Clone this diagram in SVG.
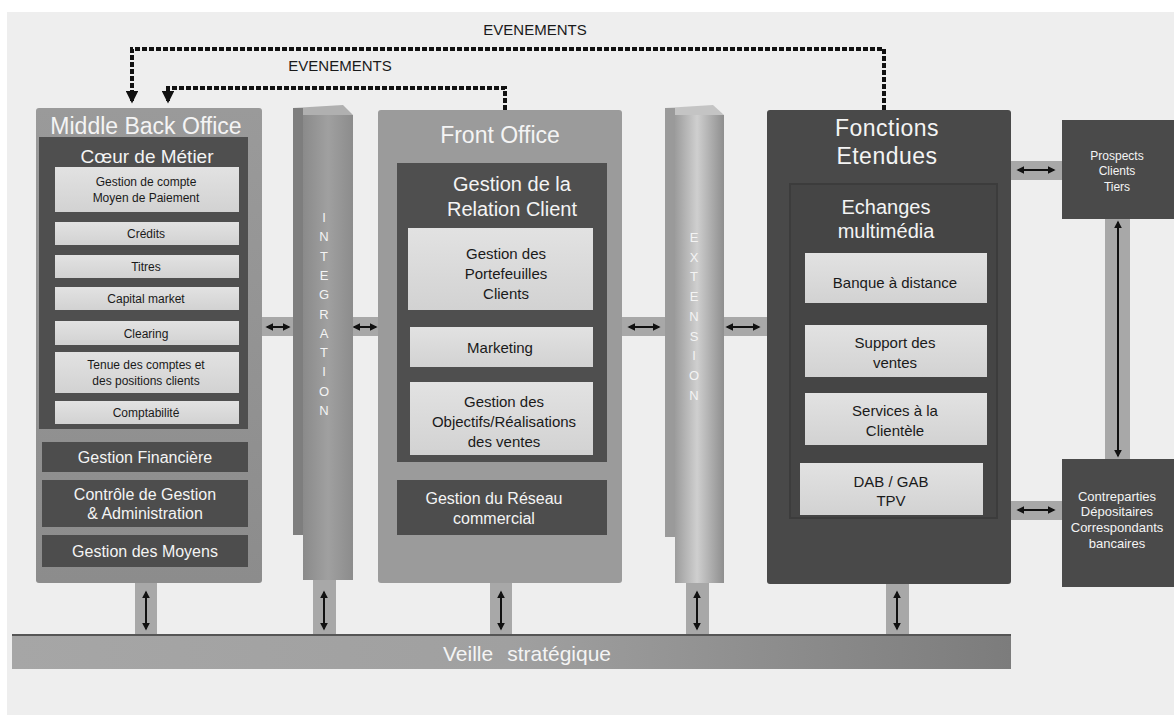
<svg xmlns="http://www.w3.org/2000/svg" width="1174" height="715" viewBox="0 0 1174 715">
<defs>
<style>
text{font-family:"Liberation Sans",Arial,sans-serif;text-anchor:middle}
.wt{fill:#f4f4f4}
.bk{fill:#1a1a1a}
.t23{font-size:23px}
.t20{font-size:20px}
.t16{font-size:16px}
.t15{font-size:15px}
.t13{font-size:13px}
.t12{font-size:12px}
.lt{fill:url(#gLight)}
.hl{fill:#ececec}
.dk{fill:#4d4d4d}
.dot{fill:none;stroke:#111;stroke-width:4;stroke-dasharray:5 2}
.band{fill:#a8a8a8}
.arr{stroke:#111;stroke-width:2;fill:none;marker-start:url(#ah);marker-end:url(#ah)}
</style>
<marker id="ah" viewBox="0 0 10 10" refX="8" refY="5" markerWidth="4" markerHeight="4" orient="auto-start-reverse">
<path d="M0,0 L10,5 L0,10 z" fill="#111"/>
</marker>
<marker id="ahd" viewBox="0 0 10 10" refX="8" refY="5" markerWidth="3.2" markerHeight="3.2" orient="auto">
<path d="M0,0 L10,5 L0,10 z" fill="#111"/>
</marker>
<linearGradient id="gLight" x1="0" y1="0" x2="0" y2="1">
<stop offset="0" stop-color="#e2e2e2"/>
<stop offset="1" stop-color="#d2d2d2"/>
</linearGradient>
<linearGradient id="gMBO" x1="0" y1="0" x2="0" y2="1">
<stop offset="0" stop-color="#9a9a9a"/>
<stop offset="1" stop-color="#8c8c8c"/>
</linearGradient>
<linearGradient id="gInt" x1="0" y1="0" x2="1" y2="0">
<stop offset="0" stop-color="#8a8a8a"/>
<stop offset="0.5" stop-color="#a0a0a0"/>
<stop offset="1" stop-color="#8c8c8c"/>
</linearGradient>
<linearGradient id="gExt" x1="0" y1="0" x2="1" y2="0">
<stop offset="0" stop-color="#9c9c9c"/>
<stop offset="0.45" stop-color="#cfcfcf"/>
<stop offset="1" stop-color="#8e8e8e"/>
</linearGradient>
<linearGradient id="gBar" x1="0" y1="0" x2="1" y2="0">
<stop offset="0" stop-color="#a6a6a6"/>
<stop offset="0.5" stop-color="#a0a0a0"/>
<stop offset="1" stop-color="#7c7c7c"/>
</linearGradient>
</defs>

<rect x="0" y="0" width="1174" height="715" fill="#ffffff"/>
<rect x="7" y="12" width="1167" height="703" fill="#eeeeee"/>

<!-- Connectors -->
<g id="connectors">
<polyline class="dot" points="884,110 884,49 132,49 132,101" marker-end="url(#ahd)"/>
<polyline class="dot" points="505,110 505,88 168,88 168,101" marker-end="url(#ahd)"/>
<text class="bk t15" x="535" y="35">EVENEMENTS</text>
<text class="bk t15" x="340" y="71">EVENEMENTS</text>

<!-- horizontal bands -->
<rect class="band" x="262" y="317" width="32" height="19"/>
<line class="arr" x1="267" y1="327" x2="289" y2="327"/>
<rect class="band" x="350" y="317" width="30" height="19"/>
<line class="arr" x1="354" y1="327" x2="376" y2="327"/>
<rect class="band" x="622" y="317" width="46" height="19"/>
<line class="arr" x1="629" y1="327" x2="659" y2="327"/>
<rect class="band" x="723" y="317" width="45" height="19"/>
<line class="arr" x1="727" y1="327" x2="759" y2="327"/>
<rect class="band" x="1010" y="161" width="52" height="19"/>
<line class="arr" x1="1018" y1="170" x2="1054" y2="170"/>
<rect class="band" x="1010" y="501" width="52" height="19"/>
<line class="arr" x1="1018" y1="510" x2="1054" y2="510"/>
<rect class="band" x="1105" y="218" width="25" height="242"/>
<line class="arr" x1="1118" y1="222" x2="1118" y2="456"/>

<!-- vertical bands to Veille -->
<rect class="band" x="135" y="583" width="22" height="52"/>
<line class="arr" x1="146" y1="592" x2="146" y2="629"/>
<rect class="band" x="313" y="580" width="23" height="55"/>
<line class="arr" x1="324" y1="592" x2="324" y2="629"/>
<rect class="band" x="490" y="583" width="22" height="52"/>
<line class="arr" x1="501" y1="592" x2="501" y2="629"/>
<rect class="band" x="686" y="583" width="23" height="52"/>
<line class="arr" x1="697" y1="592" x2="697" y2="629"/>
<rect class="band" x="886" y="584" width="23" height="51"/>
<line class="arr" x1="897" y1="592" x2="897" y2="629"/>
</g>

<!-- Middle Back Office -->
<g id="middle-back-office">
<rect x="36" y="108" width="226" height="475" rx="3" fill="url(#gMBO)"/>
<text class="wt t23" x="146" y="134">Middle Back Office</text>
<g id="coeur-de-metier">
<rect x="39" y="137" width="209" height="292" fill="#4f4f4f"/>
<text class="wt" style="font-size:19px" x="147" y="163">Cœur de Métier</text>
<rect class="lt" x="55" y="167" width="184" height="45"/>
<text class="bk t12" x="146" y="186">Gestion de compte</text>
<text class="bk t12" x="146" y="202">Moyen de Paiement</text>
<rect class="lt" x="55" y="222" width="184" height="23"/>
<text class="bk t12" x="146" y="238">Crédits</text>
<rect class="lt" x="55" y="255" width="184" height="23"/>
<text class="bk t12" x="146" y="271">Titres</text>
<rect class="lt" x="55" y="287" width="184" height="23"/>
<text class="bk t12" x="146" y="303">Capital market</text>
<rect class="lt" x="55" y="321" width="184" height="24"/>
<text class="bk t12" x="146" y="338">Clearing</text>
<rect class="lt" x="55" y="352" width="184" height="41"/>
<text class="bk t12" x="146" y="369">Tenue des comptes et</text>
<text class="bk t12" x="146" y="385">des positions clients</text>
<rect class="lt" x="55" y="401" width="184" height="23"/>
<text class="bk t12" x="146" y="417">Comptabilité</text>
</g>
<g id="gestion-financiere">
<rect class="dk" x="42" y="442" width="206" height="30"/>
<text class="wt t16" x="145" y="463">Gestion Financière</text>
</g>
<g id="controle-gestion">
<rect class="dk" x="42" y="480" width="206" height="47"/>
<text class="wt t16" x="145" y="500">Contrôle de Gestion</text>
<text class="wt t16" x="145" y="519">&amp; Administration</text>
</g>
<g id="gestion-moyens">
<rect class="dk" x="42" y="535" width="206" height="32"/>
<text class="wt t16" x="145" y="557">Gestion des Moyens</text>
</g>
</g>

<!-- Integration -->
<g id="integration">
<polygon points="293,108 343,105 353,115 303,115" fill="#b0b0b0"/>
<rect x="293" y="108" width="10" height="427" fill="#7e7e7e"/>
<rect x="303" y="115" width="50" height="465" fill="url(#gInt)"/>
<g class="wt t13">
<text x="324" y="222">I</text>
<text x="324" y="241">N</text>
<text x="324" y="261">T</text>
<text x="324" y="280">E</text>
<text x="324" y="299">G</text>
<text x="324" y="319">R</text>
<text x="324" y="338">A</text>
<text x="324" y="357">T</text>
<text x="324" y="376">I</text>
<text x="324" y="396">O</text>
<text x="324" y="415">N</text>
</g>
</g>

<!-- Front Office -->
<g id="front-office">
<rect x="378" y="110" width="244" height="473" rx="3" fill="#9b9b9b"/>
<text class="wt" style="font-size:23px" x="500" y="143">Front Office</text>
<g id="gestion-relation-client">
<rect x="397" y="163" width="210" height="299" fill="#4f4f4f"/>
<text class="wt t20" x="512" y="191">Gestion de la</text>
<text class="wt t20" x="512" y="216">Relation Client</text>
<rect class="lt" x="408" y="228" width="185" height="82"/>
<text class="bk t15" x="506" y="259">Gestion des</text>
<text class="bk t15" x="506" y="279">Portefeuilles</text>
<text class="bk t15" x="506" y="299">Clients</text>
<rect class="lt" x="410" y="327" width="183" height="40"/>
<text class="bk t15" x="500" y="353">Marketing</text>
<rect class="lt" x="410" y="382" width="183" height="73"/>
<text class="bk t15" x="504" y="407">Gestion des</text>
<text class="bk t15" x="504" y="427">Objectifs/Réalisations</text>
<text class="bk t15" x="504" y="447">des ventes</text>
</g>
<g id="gestion-reseau">
<rect class="dk" x="397" y="480" width="210" height="55"/>
<text class="wt t16" x="494" y="504">Gestion du Réseau</text>
<text class="wt t16" x="494" y="524">commercial</text>
</g>
</g>

<!-- Extension -->
<g id="extension">
<polygon points="665,108 713,105 724,115 675,115" fill="#c4c4c4"/>
<rect x="665" y="108" width="10" height="429" fill="#9a9a9a"/>
<rect x="675" y="115" width="49" height="468" fill="url(#gExt)"/>
<g class="wt t13">
<text x="694" y="242">E</text>
<text x="694" y="262">X</text>
<text x="694" y="281">T</text>
<text x="694" y="301">E</text>
<text x="694" y="321">N</text>
<text x="694" y="341">S</text>
<text x="694" y="360">I</text>
<text x="694" y="380">O</text>
<text x="694" y="400">N</text>
</g>
</g>

<!-- Fonctions Etendues -->
<g id="fonctions-etendues">
<rect x="767" y="110" width="244" height="474" rx="3" fill="#494949"/>
<text class="wt t23" x="887" y="136" style="letter-spacing:0.5px">Fonctions</text>
<text class="wt t23" x="887" y="164" style="letter-spacing:0.5px">Etendues</text>
<g id="echanges-multimedia">
<rect x="790" y="184" width="207" height="334" fill="#454545" stroke="#3c3c3c" stroke-width="2"/>
<text class="wt t20" x="886" y="214">Echanges</text>
<text class="wt t20" x="886" y="238">multimédia</text>
<rect class="lt" x="805" y="253" width="182" height="50"/>
<text class="bk t15" x="895" y="288">Banque à distance</text>
<rect class="lt" x="805" y="325" width="182" height="52"/>
<text class="bk t15" x="895" y="348">Support des</text>
<text class="bk t15" x="895" y="368">ventes</text>
<rect class="lt" x="805" y="393" width="182" height="52"/>
<text class="bk t15" x="895" y="416">Services à la</text>
<text class="bk t15" x="895" y="436">Clientèle</text>
<rect class="lt" x="800" y="463" width="183" height="52"/>
<text class="bk t15" x="891" y="487">DAB / GAB</text>
<text class="bk t15" x="891" y="506">TPV</text>
</g>
</g>

<!-- Right boxes -->
<g id="prospects">
<rect x="1062" y="120" width="112" height="99" fill="#4a4a4a"/>
<text class="wt t12" x="1117" y="160">Prospects</text>
<text class="wt t12" x="1117" y="175">Clients</text>
<text class="wt t12" x="1117" y="191">Tiers</text>
</g>
<g id="contreparties">
<rect x="1062" y="459" width="112" height="128" fill="#4a4a4a"/>
<text class="wt t13" x="1117" y="501">Contreparties</text>
<text class="wt t13" x="1117" y="516">Dépositaires</text>
<text class="wt t13" x="1117" y="532">Correspondants</text>
<text class="wt t13" x="1117" y="548">bancaires</text>
</g>

<!-- Veille strategique -->
<g id="veille-strategique">
<rect x="12" y="635" width="999" height="34" fill="url(#gBar)"/>
<rect x="12" y="634" width="999" height="2" fill="#555"/>
<text class="wt" style="font-size:21px" x="527" y="661">Veille<tspan dx="14">stratégique</tspan></text>
</g>
</svg>
